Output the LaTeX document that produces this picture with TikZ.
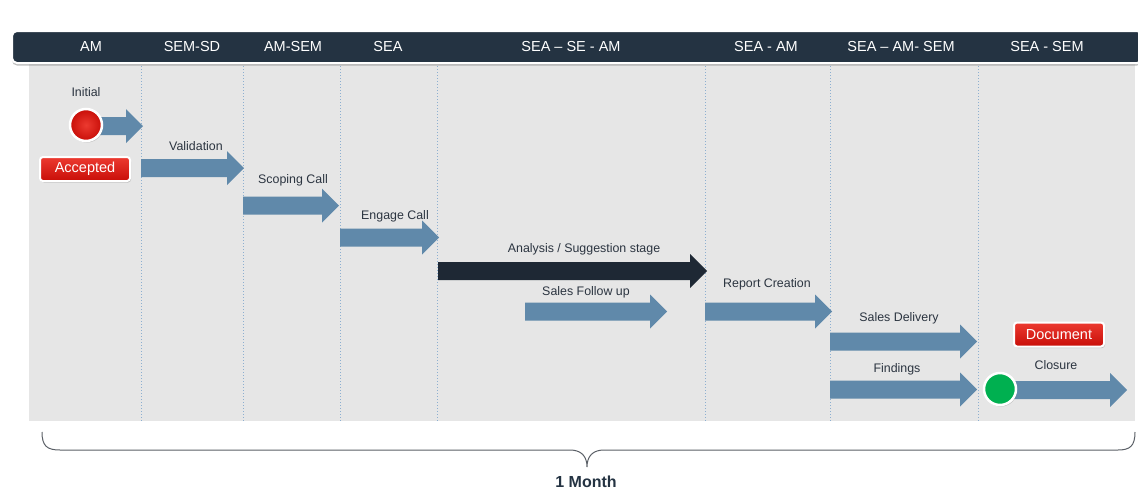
\documentclass[tikz,border=0pt]{standalone}
\usepackage{fontspec}
\setmainfont{Liberation Sans}
\usetikzlibrary{shadows}
\definecolor{hdrcol}{HTML}{243342}
\definecolor{bgcol}{HTML}{E6E6E6}
\definecolor{arrowblue}{HTML}{6089AA}
\definecolor{arrowdark}{HTML}{1E2834}
\definecolor{lblcol}{HTML}{2B3440}
\definecolor{dotcol}{HTML}{8DAFD0}
\definecolor{redtop}{HTML}{EC3A30}
\definecolor{redbot}{HTML}{C80E08}
\definecolor{greencol}{HTML}{00B050}
\definecolor{bracecol}{HTML}{5A5F66}
\newcommand{\blkarrow}[4][arrowblue]{%
  \fill[#1] (#2,#4-9) -- (#3-17,#4-9) -- (#3-17,#4-17) -- (#3,#4) -- (#3-17,#4+17) -- (#3-17,#4+9) -- (#2,#4+9) -- cycle;}
\tikzset{
  hdr/.style={text=white, font=\fontsize{14.5}{17}\selectfont},
  lbl/.style={text=lblcol, font=\fontsize{12.4}{14}\selectfont},
  lane/.style={dotcol, dotted, line width=1pt},
  redbox/.style={draw=white, line width=2pt, rounded corners=3pt, top color=redtop, bottom color=redbot,
     text=white, font=\fontsize{14.5}{17}\selectfont, drop shadow={shadow xshift=1pt, shadow yshift=-1.5pt, opacity=0.4}},
  dot/.style={circle, draw=white, line width=2.5pt, minimum size=32pt, inner sep=0pt,
     drop shadow={shadow xshift=1pt, shadow yshift=-1.5pt, opacity=0.4}},
}
\begin{document}
\begin{tikzpicture}[x=1pt,y=-1pt]
\useasboundingbox (0,0) rectangle (1138,493);
% background area
\fill[bgcol] (29,60) rectangle (1135,421);
% lane separators
\foreach \xx in {141,243,340,437,705,830,978}
  \draw[lane] (\xx,63) -- (\xx,421);
% header bar
\draw[draw=white, line width=2pt, fill=hdrcol, rounded corners=5pt,
  drop shadow={shadow xshift=0pt, shadow yshift=-2.5pt, opacity=0.5}] (12,31) rectangle (1142,63);
\node[hdr] (h1) at (91,47) {AM};
\node[hdr] (h2) at (192,47) {SEM-SD};
\node[hdr] (h3) at (293,47) {AM-SEM};
\node[hdr] (h4) at (388,47) {SEA};
\node[hdr] (h5) at (571,47) {SEA – SE - AM};
\node[hdr] (h6) at (766,47) {SEA - AM};
\node[hdr] (h7) at (901,47) {SEA – AM- SEM};
\node[hdr] (h8) at (1047,47) {SEA - SEM};
% arrows
\blkarrow{95}{143}{126}
\blkarrow{141}{244}{168}
\blkarrow{243}{339}{205.5}
\blkarrow{340}{439}{237.5}
\blkarrow[arrowdark]{438}{707}{271}
\blkarrow{525}{667}{311.5}
\blkarrow{705}{832}{311.5}
\blkarrow{830}{977}{341.5}
\blkarrow{830}{977}{389.5}
\blkarrow{1000}{1127}{390}
% labels
\node[lbl] (linit) at (86,92) {Initial};
\node[lbl] (lval) at (196,146) {Validation};
\node[lbl] (lscope) at (293,180) {Scoping Call};
\node[lbl] (leng) at (395,216) {Engage Call};
\node[lbl] (lana) at (584,249) {Analysis / Suggestion stage};
\node[lbl] (lsfu) at (586,292) {Sales Follow up};
\node[lbl] (lrep) at (767,284) {Report Creation};
\node[lbl] (lsd) at (899,318) {Sales Delivery};
\node[lbl] (lfind) at (897,369) {Findings};
\node[lbl] (lclos) at (1056,365) {Closure};
% start / end markers
\node[dot, shading=radial, inner color=redtop, outer color=redbot] (start) at (86,125) {};
\node[dot, fill=greencol] (stop) at (1000,389) {};
\node[redbox, minimum width=90pt, minimum height=24pt, inner sep=0pt] (acc) at (85,169) {Accepted};
\node[redbox, minimum width=90pt, minimum height=24pt, inner sep=0pt] (doc) at (1059,334.5) {Document};
% brace
\draw[bracecol, line width=1pt] (42,432) .. controls (42,446) and (47,450) .. (60,450) -- (570,450)
  .. controls (581,450) and (587,456) .. (587,467)
  .. controls (587,456) and (593,450) .. (604,450) -- (1118,450)
  .. controls (1130,450) and (1135,446) .. (1135,432);
\node[text=hdrcol, font=\bfseries\fontsize{16}{19}\selectfont] (month) at (586,482) {1 Month};
\end{tikzpicture}
\end{document}
